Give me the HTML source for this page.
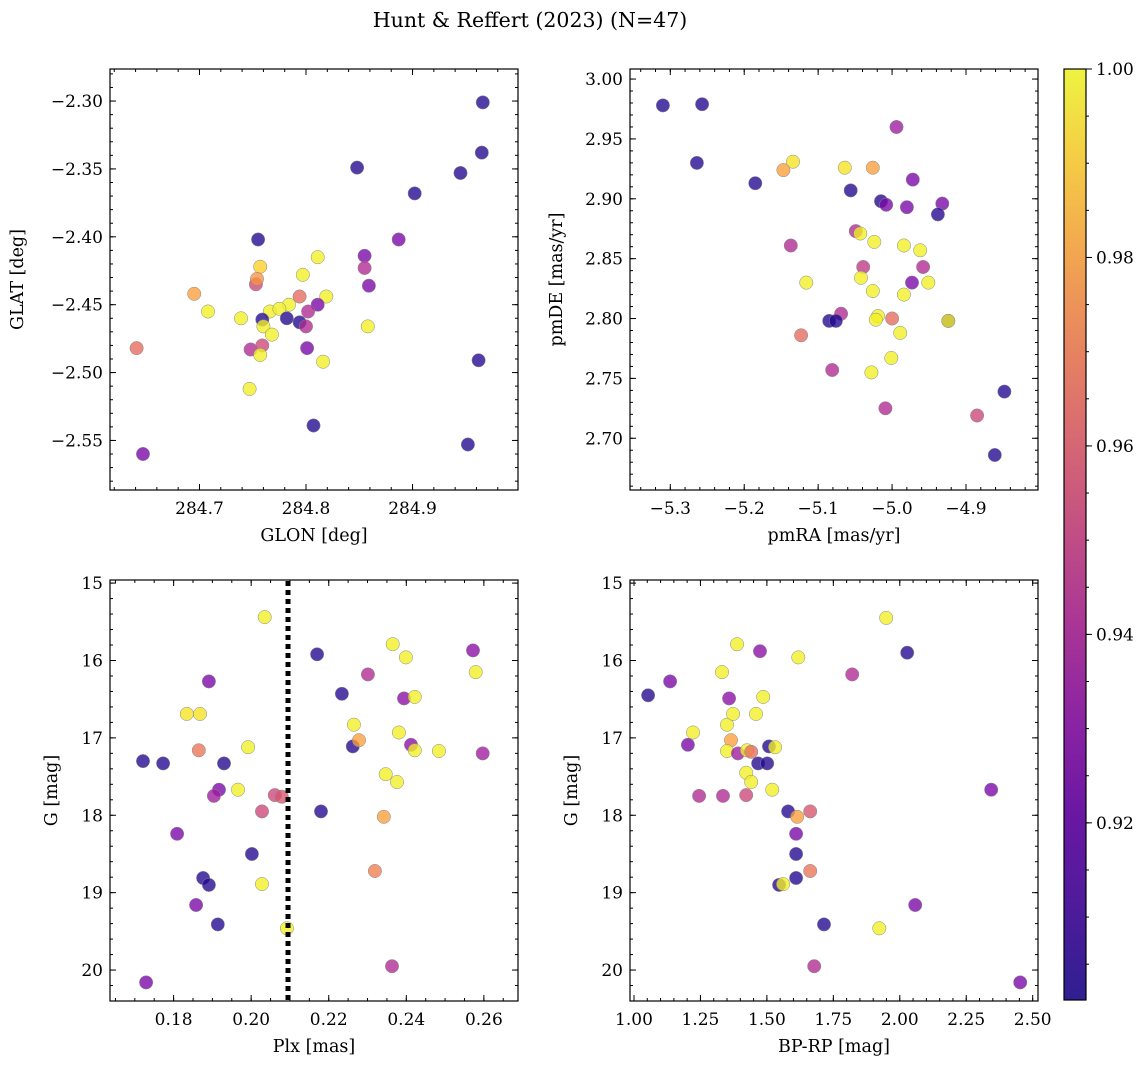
<!DOCTYPE html>
<html><head><meta charset="utf-8"><style>
html,body{margin:0;padding:0;background:#fff;}
svg{display:block;font-family:"DejaVu Serif","Liberation Serif",serif;}
</style></head><body>
<svg id="fig" width="1148" height="1068" viewBox="0 0 1148 1068" xmlns="http://www.w3.org/2000/svg">
<defs>
<linearGradient id="plasma" x1="0" y1="1" x2="0" y2="0">
<stop offset="0" stop-color="#2f1f91"/><stop offset="0.1" stop-color="#4e1b9b"/><stop offset="0.2" stop-color="#6a17a3"/><stop offset="0.3" stop-color="#8b24a3"/><stop offset="0.4" stop-color="#a83596"/><stop offset="0.5" stop-color="#c14e84"/><stop offset="0.6" stop-color="#d66873"/><stop offset="0.7" stop-color="#e78460"/><stop offset="0.8" stop-color="#f2a550"/><stop offset="0.9" stop-color="#f5cb45"/><stop offset="1" stop-color="#eef342"/>
</linearGradient>
</defs>
<text x="530" y="27" font-size="20.5" text-anchor="middle">Hunt &amp; Reffert (2023) (N=47)</text>
</svg>
<script>
// ---- data: colors encode membership probability ----
const glon = [284.966,284.965,284.945,284.848,284.902,284.755,284.887,284.855,284.811,284.855,284.757,284.753,284.695,284.708,284.739,284.754,284.859,284.797,284.819,284.794,284.811,284.784,284.802,284.766,284.775,284.759,284.782,284.794,284.800,284.760,284.768,284.641,284.748,284.759,284.801,284.757,284.816,284.858,284.747,284.962,284.807,284.952,284.647];
const glat = [-2.301,-2.338,-2.353,-2.349,-2.368,-2.402,-2.402,-2.414,-2.415,-2.423,-2.422,-2.435,-2.442,-2.455,-2.460,-2.431,-2.436,-2.428,-2.444,-2.444,-2.450,-2.450,-2.455,-2.455,-2.453,-2.461,-2.460,-2.463,-2.466,-2.466,-2.472,-2.482,-2.483,-2.480,-2.482,-2.487,-2.492,-2.466,-2.512,-2.491,-2.539,-2.553,-2.560];
const probA = [0.905,0.905,0.905,0.905,0.905,0.905,0.925,0.925,0.998,0.94,0.99,0.95,0.978,0.998,0.998,0.975,0.925,0.998,0.998,0.962,0.925,0.998,0.94,0.998,0.998,0.905,0.905,0.905,0.94,0.998,0.998,0.962,0.94,0.95,0.925,0.998,0.998,0.998,0.998,0.905,0.905,0.905,0.925];

const pmra = [-5.310,-5.257,-5.264,-5.185,-5.134,-5.147,-5.064,-5.026,-4.994,-5.056,-5.015,-5.008,-4.972,-4.980,-4.932,-4.938,-5.049,-5.043,-5.137,-5.024,-4.984,-4.962,-5.116,-5.039,-5.042,-4.973,-4.958,-4.951,-5.026,-4.984,-5.069,-5.085,-5.076,-5.019,-5.022,-5.000,-4.924,-4.924,-5.123,-4.989,-5.001,-5.028,-5.081,-5.009,-4.885,-4.848,-4.861];
const pmde = [2.978,2.979,2.930,2.913,2.931,2.924,2.926,2.926,2.960,2.907,2.898,2.895,2.916,2.893,2.896,2.887,2.873,2.871,2.861,2.864,2.861,2.857,2.830,2.843,2.834,2.830,2.843,2.830,2.823,2.820,2.804,2.798,2.798,2.802,2.799,2.800,2.798,2.798,2.786,2.788,2.767,2.755,2.757,2.725,2.719,2.739,2.686];
const probB = [0.905,0.905,0.905,0.905,0.995,0.978,0.995,0.978,0.935,0.905,0.905,0.925,0.925,0.925,0.925,0.905,0.94,0.998,0.94,0.998,0.998,0.998,0.998,0.945,0.998,0.925,0.94,0.998,0.998,0.998,0.94,0.905,0.905,0.998,0.998,0.962,0.905,0.998,0.962,0.998,0.998,0.998,0.94,0.94,0.95,0.905,0.905];

const plx = [0.1721,0.1773,0.1834,0.1868,0.1865,0.1930,0.1992,0.1966,0.1917,0.1904,0.2061,0.2079,0.2028,0.1809,0.2002,0.2028,0.1876,0.1891,0.1858,0.1914,0.2092,0.1729,0.2319,0.2342,0.2180,0.2363,0.2347,0.2376,0.2262,0.2278,0.2265,0.2381,0.2412,0.2422,0.2484,0.2597,0.2035,0.2170,0.2572,0.2579,0.2365,0.2399,0.2301,0.1891,0.2234,0.2394,0.2422];
const gmagA = [17.30,17.33,16.69,16.69,17.16,17.33,17.12,17.67,17.67,17.75,17.74,17.76,17.95,18.24,18.50,18.89,18.81,18.90,19.16,19.41,19.46,20.16,18.72,18.02,17.95,19.95,17.47,17.57,17.11,17.03,16.83,16.93,17.09,17.16,17.17,17.20,15.44,15.92,15.87,16.15,15.79,15.96,16.18,16.27,16.43,16.49,16.47];
const probC = [0.905,0.905,0.995,0.995,0.965,0.905,0.998,0.998,0.925,0.935,0.95,0.955,0.95,0.925,0.905,0.998,0.905,0.905,0.925,0.905,0.998,0.925,0.968,0.978,0.905,0.94,0.998,0.998,0.905,0.978,0.998,0.998,0.93,0.998,0.998,0.935,0.998,0.905,0.93,0.998,0.998,0.998,0.94,0.925,0.905,0.93,0.998];

const bprp = [1.053,1.136,1.331,1.388,1.474,1.618,1.949,2.028,1.821,1.358,1.486,1.222,1.203,1.350,1.373,1.459,1.365,1.350,1.391,1.425,1.441,1.422,1.441,1.467,1.501,1.508,1.531,1.520,1.245,1.335,1.422,1.580,1.663,1.614,1.610,1.610,1.610,1.663,1.546,1.561,1.715,1.923,2.058,1.678,2.344,2.453];
const gmagB = [16.45,16.27,16.15,15.79,15.88,15.96,15.45,15.90,16.18,16.49,16.47,16.93,17.09,16.83,16.69,16.69,17.03,17.17,17.20,17.16,17.18,17.45,17.57,17.33,17.33,17.11,17.12,17.67,17.75,17.75,17.74,17.95,17.95,18.02,18.24,18.50,18.81,18.72,18.90,18.89,19.41,19.46,19.16,19.95,17.67,20.16];
const probD = [0.905,0.925,0.998,0.998,0.93,0.998,0.998,0.905,0.94,0.93,0.998,0.998,0.925,0.998,0.998,0.998,0.978,0.998,0.935,0.998,0.962,0.998,0.998,0.905,0.905,0.905,0.998,0.998,0.94,0.94,0.95,0.905,0.955,0.978,0.925,0.905,0.905,0.965,0.905,0.998,0.905,0.998,0.925,0.94,0.925,0.925];

const plxCut = [0.2095];
const cbarTicks = [0.92,0.94,0.96,0.98,1.00];
const cbarLabels = ["0.92","0.94","0.96","0.98","1.00"];
const vmin = 0.9012, vmax = 1.0;

const NS = "http://www.w3.org/2000/svg";
const svg = document.getElementById('fig');
function mk(tag, attrs, parent){ const e=document.createElementNS(NS,tag); for(const k in attrs) e.setAttribute(k,attrs[k]); (parent||svg).appendChild(e); return e; }

const stops=[[0,[13,8,135]],[0.1,[65,4,157]],[0.2,[106,0,168]],[0.3,[143,13,164]],[0.4,[177,42,144]],[0.5,[204,71,120]],[0.6,[225,100,98]],[0.7,[242,132,75]],[0.8,[252,166,54]],[0.9,[252,206,37]],[1,[240,249,33]]];
function plasma(v){
  let t=Math.max(0,Math.min(1,(v-vmin)/(vmax-vmin)));
  for(let i=1;i<stops.length;i++){ if(t<=stops[i][0]){ const a=stops[i-1],b=stops[i]; const f=(t-a[0])/(b[0]-a[0]); const c=a[1].map((x,j)=>Math.round(x+(b[1][j]-x)*f)); return `rgb(${c[0]},${c[1]},${c[2]})`; } }
  return 'rgb(240,249,33)';
}

function panel(cfg){
  const {name,L,T,W,H,xd,yd,xMaj,xMin,yMaj,yMin,xFmt,yFmt,xlab,ylab,xs,ys,cs} = cfg;
  const g = mk('g',{});
  
  
  const sx = v => L + (v-xd[0])/(xd[1]-xd[0])*W;
  const sy = v => T + (yd[1]-v)/(yd[1]-yd[0])*H;
  const pg = mk('g',{},g);
  
  
  for(let i=0;i<xs.length;i++){
    const c = mk('circle',{cx:sx(xs[i]).toFixed(1),cy:sy(ys[i]).toFixed(1),r:6.7,fill:plasma(cs[i]),'fill-opacity':0.78,stroke:'#888','stroke-width':0.5},pg);
    
    
  }
  if(cfg.extra) cfg.extra(g,sx,sy);
  const fr = mk('rect',{x:L,y:T,width:W,height:H,fill:'none',stroke:'#000','stroke-width':1.2},g);
  
  
  const tg = mk('g',{stroke:'#000','stroke-width':1},g);
  const eps=1e-9;
  function ticksX(step,len){ const s=Math.ceil((xd[0]-eps)/step); for(let k=s;k*step<=xd[1]+eps;k++){ const x=sx(k*step); mk('line',{x1:x,y1:T+H,x2:x,y2:T+H-len},tg); mk('line',{x1:x,y1:T,x2:x,y2:T+len},tg);} }
  function ticksY(step,len){ const s=Math.ceil((yd[0]-eps)/step); for(let k=s;k*step<=yd[1]+eps;k++){ const y=sy(k*step); mk('line',{x1:L,y1:y,x2:L+len,y2:y},tg); mk('line',{x1:L+W,y1:y,x2:L+W-len,y2:y},tg);} }
  ticksX(xMin,3); ticksX(xMaj,6); ticksY(yMin,3); ticksY(yMaj,6);
  const s1=Math.ceil((xd[0]-eps)/xMaj);
  for(let k=s1;k*xMaj<=xd[1]+eps;k++){ const t=mk('text',{x:sx(k*xMaj),y:T+H+24,'font-size':17,'text-anchor':'middle'},g); t.textContent=xFmt(k*xMaj);
      }
  const s2=Math.ceil((yd[0]-eps)/yMaj);
  for(let k=s2;k*yMaj<=yd[1]+eps;k++){ const t=mk('text',{x:L-7,y:sy(k*yMaj)+6,'font-size':17,'text-anchor':'end'},g); t.textContent=yFmt(k*yMaj);
      }
  const xl=mk('text',{x:L+W/2,y:T+H+51,'font-size':17.5,'text-anchor':'middle'},g); xl.textContent=xlab;
   
  const yx=cfg.ylx, yy=T+H/2;
  const yl=mk('text',{x:yx,y:yy,'font-size':17.5,'text-anchor':'middle',transform:`rotate(-90 ${yx} ${yy})`},g); yl.textContent=ylab;
   
}
const neg = s => s.replace('-','\u2212');
panel({name:'glon-glat-panel',L:110,T:69,W:408,H:421,xd:[284.616,284.999],yd:[-2.5865,-2.2764],xMaj:0.1,xMin:0.02,yMaj:0.05,yMin:0.01,
  xFmt:v=>v.toFixed(1),yFmt:v=>neg(v.toFixed(2)),xlab:'GLON [deg]',ylab:'GLAT [deg]',ylx:23,xs:glon,ys:glat,cs:probA});
panel({name:'proper-motion-panel',L:630,T:69,W:408,H:421,xd:[-5.3545,-4.8026],yd:[2.6568,3.0084],xMaj:0.1,xMin:0.02,yMaj:0.05,yMin:0.01,
  xFmt:v=>neg(v.toFixed(1)),yFmt:v=>v.toFixed(2),xlab:'pmRA [mas/yr]',ylab:'pmDE [mas/yr]',ylx:562,xs:pmra,ys:pmde,cs:probB});
panel({name:'plx-g-panel',L:110,T:580,W:408,H:421,xd:[0.1636,0.2688],yd:[-20.4,-14.96],xMaj:0.02,xMin:0.005,yMaj:1,yMin:0.2,
  xFmt:v=>v.toFixed(2),yFmt:v=>String(Math.round(-v)),xlab:'Plx [mas]',ylab:'G [mag]',ylx:57,xs:plx,ys:gmagA.map(v=>-v),cs:probC,
  extra:(g,sx,sy)=>{ const x=sx(plxCut[0]); const l=mk('line',{x1:x,y1:581,x2:x,y2:1000,stroke:'#000','stroke-width':5,'stroke-dasharray':'5 4'},g);
      }});
panel({name:'cmd-panel',L:630,T:580,W:408,H:421,xd:[0.985,2.520],yd:[-20.4,-14.96],xMaj:0.25,xMin:0.05,yMaj:1,yMin:0.2,
  xFmt:v=>v.toFixed(2),yFmt:v=>String(Math.round(-v)),xlab:'BP-RP [mag]',ylab:'G [mag]',ylx:577,xs:bprp,ys:gmagB.map(v=>-v),cs:probD});

const CB={L:1064,T:69,W:22,H:931};
const cg=mk('g',{});


mk('rect',{x:CB.L,y:CB.T,width:CB.W,height:CB.H,fill:'url(#plasma)',stroke:'#000','stroke-width':1.2},cg);
const cy = v => CB.T + (vmax-v)/(vmax-vmin)*CB.H;
for(let v=0.905; v<vmax; v+=0.005){ const y=cy(v); mk('line',{x1:CB.L+CB.W,y1:y,x2:CB.L+CB.W+3,y2:y,stroke:'#000'},cg); }
cbarTicks.forEach((v,i)=>{ const y=cy(v); mk('line',{x1:CB.L+CB.W,y1:y,x2:CB.L+CB.W+6,y2:y,stroke:'#000'},cg);
  const t=mk('text',{x:CB.L+CB.W+10,y:y+6,'font-size':17},cg); t.textContent=cbarLabels[i];
    });
</script>
</body></html>
